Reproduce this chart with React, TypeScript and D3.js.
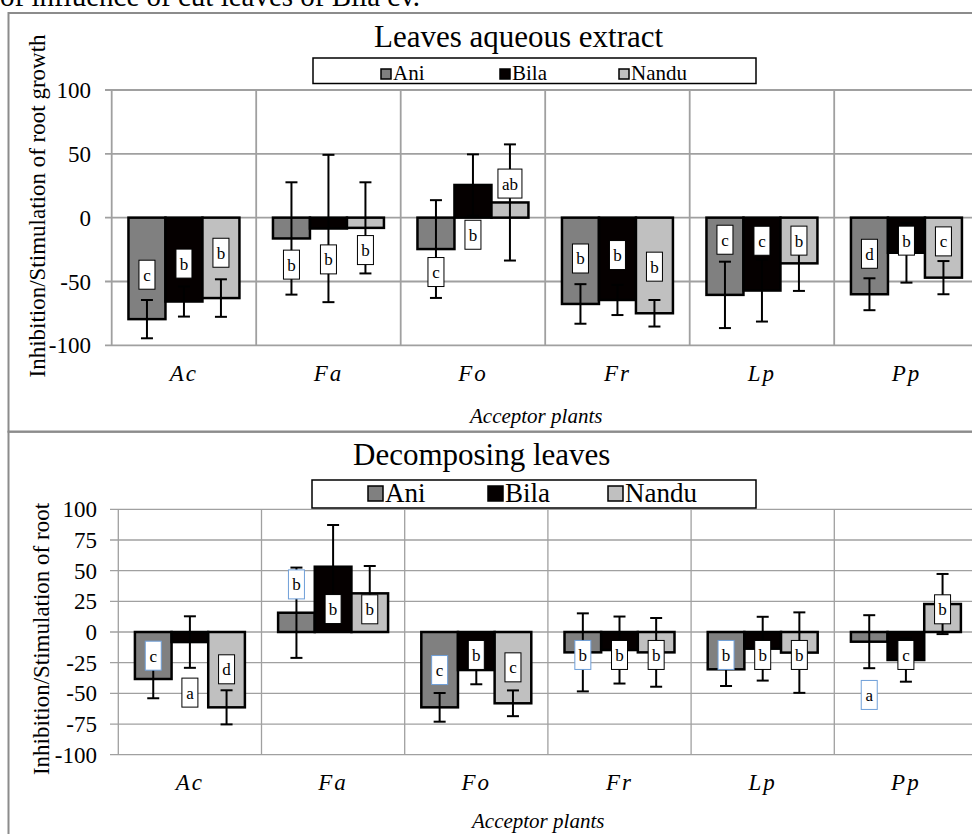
import React from "react";
import * as d3 from "d3";

const categories = ["Ac", "Fa", "Fo", "Fr", "Lp", "Pp"];
const seriesNames = ["Ani", "Bila", "Nandu"];
const seriesColors = ["#808080", "#050000", "#c0c0c0"];

// Leaves aqueous extract
const topAni = [-79.5, -16.3, -24.6, -67.6, -60.5, -60];
const topAniErr = [15, 44, 38.3, 15.5, 26, 12.5];
const topBila = [-65.7, -8.5, 25.6, -64.5, -57.1, -27.5];
const topBilaErr = [11.8, 57.7, 24, 11.8, 24.3, 23.4];
const topNandu = [-63, -8, 11.9, -74.9, -35.8, -47];
const topNanduErr = [14.7, 35.7, 45.5, 10.4, 21.6, 13];
const topAniLetters = ["c", "b", "c", "b", "c", "d"];
const topAniLetterPos = [-44.7, -36.8, -42.6, -32, -17.3, -28.3];
const topBilaLetters = ["b", "b", "b", "b", "c", "b"];
const topBilaLetterPos = [-36, -32.7, -13.4, -29.3, -18.1, -18];
const topNanduLetters = ["b", "b", "ab", "b", "b", "c"];
const topNanduLetterPos = [-27.5, -25.4, 26.7, -38.4, -18, -18.6];
const topTicks = [100, 50, 0, -50, -100];

// Decomposing leaves
const botAni = [-38.3, 15.7, -61.4, -16.6, -30.4, -7.9];
const botAniErr = [15.7, 36.8, 11.7, 31.8, 13.6, 21.6];
const botBila = [-8.2, 53.2, -31, -14.7, -13.6, -22.8];
const botBilaErr = [21, 34, 11.6, 27.3, 26, 17.7];
const botNandu = [-61.4, 31.5, -58.1, -16.6, -16.8, 22.8];
const botNanduErr = [13.9, 22.3, 10.5, 28, 32.8, 24.5];
const botAniLetters = ["c", "b", "c", "b", "b", "a"];
const botAniLetterPos = [-19.3, 38.8, -31, -18.7, -18.7, -51.3];
const botBilaLetters = ["a", "b", "b", "b", "b", "c"];
const botBilaLetterPos = [-49.4, 18.7, -18.7, -18.7, -18.7, -18.7];
const botNanduLetters = ["d", "b", "c", "b", "b", "b"];
const botNanduLetterPos = [-30.4, 18.5, -28.8, -18.7, -18.7, 18.5];
const botTicks = [100, 75, 50, 25, 0, -25, -50, -75, -100];

const SERIF = "'Liberation Serif', 'Times New Roman', serif";

type PanelCfg = {
  title: string;
  titleX: number;
  titleY: number;
  titleSize: number;
  yTitle: string;
  yTitleX: number;
  yTitleY: number;
  legend: { x0: number; y0: number; x1: number; y1: number; items: number[]; sw: number; font: number; base: number };
  plotLeft: number;
  catW: number;
  yTop: number;
  yBottom: number;
  tickStart: number;
  tickLabelX: number;
  ticks: number[];
  values: number[][];
  errs: number[][];
  letters: string[][];
  letterPos: number[][];
  letterBorders: string[];
  catLabelY: number;
  axisTitleY: number;
  axisTitleX: number;
  gridW: number;
  barStroke: number;
};

function Panel({ c }: { c: PanelCfg }) {
  const x = d3
    .scaleBand<string>()
    .domain(categories)
    .range([c.plotLeft, c.plotLeft + categories.length * c.catW]);
  const inner = d3
    .scaleBand<string>()
    .domain(seriesNames)
    .range([c.catW * 0.116, c.catW * 0.884]);
  const y = d3.scaleLinear().domain([-100, 100]).range([c.yBottom, c.yTop]);
  const right = 990;
  const bw = inner.bandwidth();
  return (
    <g>
      {c.ticks.map((t) => (
        <line key={"g" + t} x1={c.tickStart} x2={right} y1={y(t)} y2={y(t)} stroke="#a0a0a0" strokeWidth={c.gridW} />
      ))}
      {categories.map((cat) => (
        <line key={"v" + cat} x1={x(cat)!} x2={x(cat)!} y1={c.yTop} y2={c.yBottom} stroke="#a0a0a0" strokeWidth={c.gridW} />
      ))}
      {c.ticks.map((t) => (
        <text key={"t" + t} x={c.tickLabelX} y={y(t)} dy="0.35em" textAnchor="end" fontSize={23} fontFamily={SERIF}>
          {t}
        </text>
      ))}
      {seriesNames.map((s, si) =>
        categories.map((cat, ci) => {
          const v = c.values[si][ci];
          const bx = x(cat)! + inner(s)!;
          return (
            <rect
              key={s + cat}
              x={bx}
              y={Math.min(y(v), y(0))}
              width={bw}
              height={Math.abs(y(v) - y(0))}
              fill={seriesColors[si]}
              stroke="#000"
              strokeWidth={c.barStroke}
            />
          );
        })
      )}
      {seriesNames.map((s, si) =>
        categories.map((cat, ci) => {
          const v = c.values[si][ci];
          const e = c.errs[si][ci];
          const cx = x(cat)! + inner(s)! + bw / 2;
          return (
            <g key={"e" + s + cat} stroke="#000" strokeWidth={2}>
              <line x1={cx} x2={cx} y1={y(v + e)} y2={y(v - e)} />
              <line x1={cx - 6} x2={cx + 6} y1={y(v + e)} y2={y(v + e)} />
              <line x1={cx - 6} x2={cx + 6} y1={y(v - e)} y2={y(v - e)} />
            </g>
          );
        })
      )}
      {seriesNames.map((s, si) =>
        categories.map((cat, ci) => {
          const lt = c.letters[si][ci];
          const cy = y(c.letterPos[si][ci]);
          const cx = x(cat)! + inner(s)! + bw / 2;
          const w = lt.length > 1 ? 24 : 16;
          return (
            <g key={"l" + s + cat}>
              <rect x={cx - w / 2} y={cy - 14.5} width={w} height={29} fill="#fff" stroke={c.letterBorders[si]} strokeWidth={1} />
              <text x={cx} y={cy} dy="0.35em" textAnchor="middle" fontSize={17} fontFamily={SERIF}>
                {lt}
              </text>
            </g>
          );
        })
      )}
      {categories.map((cat) => (
        <text
          key={"c" + cat}
          x={x(cat)! + c.catW / 2}
          y={c.catLabelY}
          textAnchor="middle"
          fontSize={23}
          fontStyle="italic"
          letterSpacing={2}
          fontFamily={SERIF}
        >
          {cat}
        </text>
      ))}
      <text x={c.axisTitleX} y={c.axisTitleY} fontSize={21} fontStyle="italic" fontFamily={SERIF}>
        Acceptor plants
      </text>
      <text
        transform={`translate(${c.yTitleX},${c.yTitleY}) rotate(-90)`}
        textAnchor="middle"
        fontSize={23}
        fontFamily={SERIF}
      >
        {c.yTitle}
      </text>
      <text x={c.titleX} y={c.titleY} fontSize={c.titleSize} fontFamily={SERIF}>
        {c.title}
      </text>
      <rect
        x={c.legend.x0}
        y={c.legend.y0}
        width={c.legend.x1 - c.legend.x0}
        height={c.legend.y1 - c.legend.y0}
        fill="#fff"
        stroke="#000"
        strokeWidth={1.5}
      />
      {seriesNames.map((s, si) => (
        <g key={"lg" + s}>
          <rect
            x={c.legend.items[si]}
            y={c.legend.base - c.legend.sw - 1}
            width={c.legend.sw}
            height={c.legend.sw}
            fill={seriesColors[si]}
            stroke="#000"
            strokeWidth={1.5}
          />
          <text x={c.legend.items[si] + c.legend.sw + 2} y={c.legend.base} fontSize={c.legend.font} fontFamily={SERIF}>
            {s}
          </text>
        </g>
      ))}
    </g>
  );
}

const topCfg: PanelCfg = {
  title: "Leaves aqueous extract",
  titleX: 374,
  titleY: 47,
  titleSize: 31,
  yTitle: "Inhibition/Stimulation of root growth",
  yTitleX: 45,
  yTitleY: 206,
  legend: { x0: 313, y0: 58, x1: 756, y1: 83.5, items: [381, 500, 619], sw: 10, font: 21, base: 80 },
  plotLeft: 111.7,
  catW: 144.5,
  yTop: 90,
  yBottom: 345.3,
  tickStart: 105,
  tickLabelX: 91,
  ticks: topTicks,
  values: [topAni, topBila, topNandu],
  errs: [topAniErr, topBilaErr, topNanduErr],
  letters: [topAniLetters, topBilaLetters, topNanduLetters],
  letterPos: [topAniLetterPos, topBilaLetterPos, topNanduLetterPos],
  letterBorders: ["#000", "#000", "#000"],
  catLabelY: 381,
  axisTitleY: 423,
  axisTitleX: 470,
  gridW: 1.8,
  barStroke: 2.5,
};

const botCfg: PanelCfg = {
  title: "Decomposing leaves",
  titleX: 353,
  titleY: 465,
  titleSize: 31,
  yTitle: "Inhibition/Stimulation of root",
  yTitleX: 49,
  yTitleY: 639,
  legend: { x0: 312, y0: 480, x1: 756, y1: 508, items: [368, 488, 608], sw: 15, font: 27, base: 502 },
  plotLeft: 118.3,
  catW: 143.2,
  yTop: 509.3,
  yBottom: 754.7,
  tickStart: 110,
  tickLabelX: 97,
  ticks: botTicks,
  values: [botAni, botBila, botNandu],
  errs: [botAniErr, botBilaErr, botNanduErr],
  letters: [botAniLetters, botBilaLetters, botNanduLetters],
  letterPos: [botAniLetterPos, botBilaLetterPos, botNanduLetterPos],
  letterBorders: ["#6f9fd8", "#000", "#000"],
  catLabelY: 790,
  axisTitleY: 828,
  axisTitleX: 472,
  gridW: 1.3,
  barStroke: 2.5,
};

export default function App() {
  return (
    <svg
      width={972}
      height={834}
      style={{ position: "absolute", left: 0, top: 0, background: "#fff" }}
    >
      <rect x={0} y={0} width={972} height={834} fill="#fff" />
      <text x={0} y={6} fontSize={29} fontFamily={SERIF}>
        of influence of cut leaves of Bila cv.
      </text>
      <rect x={8.5} y={13} width={1000} height={418.7} fill="none" stroke="#8c8c8c" strokeWidth={2} />
      <rect x={8.5} y={431.7} width={1000} height={500} fill="none" stroke="#8c8c8c" strokeWidth={2} />
      <Panel c={topCfg} />
      <Panel c={botCfg} />
    </svg>
  );
}
